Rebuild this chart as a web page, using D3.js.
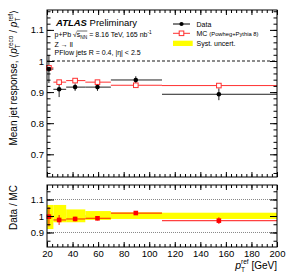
<!DOCTYPE html>
<html><head><meta charset="utf-8">
<script src="https://cdn.jsdelivr.net/npm/d3@7"></script>
<style>
html,body{margin:0;padding:0;background:#fff;}
text{font-family:"Liberation Sans",Arial,Helvetica,sans-serif;fill:#000;white-space:pre;}
</style></head>
<body>
<svg id="c" width="291" height="279"></svg>
<script>
// ---------- data ----------
const binLo = [20, 25, 35, 50, 70, 110];
const binHi = [25, 35, 50, 70, 110, 200];
const ptCenter = [21.5, 29.5, 42, 59.5, 89.5, 154.5];
const dataResp = [0.974, 0.909, 0.916, 0.916, 0.939, 0.893];
const dataErr  = [0.045, 0.025, 0.012, 0.012, 0.012, 0.019];
const mcResp   = [0.978, 0.932, 0.937, 0.932, 0.922, 0.921];
const ratioVal = [0.996, 0.976, 0.982, 0.986, 1.018, 0.972];
const ratioErr = [0.058, 0.030, 0.014, 0.013, 0.012, 0.020];
const systUp   = [1.067, 1.067, 1.040, 1.030, 1.022, 1.020];
const systDn   = [0.921, 0.962, 0.962, 0.976, 0.982, 0.982];
const xTicks = [20, 40, 60, 80, 100, 120, 140, 160, 180, 200];
const yTicksTop = [0.7, 0.8, 0.9, 1.0, 1.1];
const yTicksRatio = [0.9, 1.0, 1.1];

// ---------- layout ----------
const svg = d3.select("#c");
const L = 47, R = 277;
const T1 = 10, B1 = 177, T2 = 185, B2 = 247;
const x = d3.scaleLinear().domain([20, 200]).range([L, R]);
const yTop = d3.scaleLinear().domain([0.627, 1.164]).range([B1, T1]);
const yRat = d3.scaleLinear().domain([0.812, 1.188]).range([B2, T2]);
const idx = d3.range(binLo.length);

function styleAxis(g){
  g.select(".domain").remove();
  g.selectAll("line").attr("stroke","#000").attr("stroke-width",1);
  g.selectAll("text").style("font-family",'"Liberation Sans",Arial,sans-serif').style("font-size","9.5px").attr("fill","#000");
}
function ticksFor(yS, top, bot, majors, minorStep, majLen, minLen, showX){
  const xMinor = d3.range(20, 200.01, 4);
  svg.append("g").attr("transform",`translate(0,${bot})`)
    .call(d3.axisBottom(x).tickValues(xMinor).tickFormat("").tickSize(-minLen).tickSizeOuter(0)).call(styleAxis);
  const gb = svg.append("g").attr("transform",`translate(0,${bot})`)
    .call(d3.axisBottom(x).tickValues(xTicks).tickFormat(showX ? d3.format("d") : "").tickSize(-majLen).tickSizeOuter(0));
  styleAxis(gb);
  gb.selectAll("text").attr("y", 3);
  svg.append("g").attr("transform",`translate(0,${top})`)
    .call(d3.axisTop(x).tickValues(xMinor).tickFormat("").tickSize(-minLen).tickSizeOuter(0)).call(styleAxis);
  svg.append("g").attr("transform",`translate(0,${top})`)
    .call(d3.axisTop(x).tickValues(xTicks).tickFormat("").tickSize(-majLen).tickSizeOuter(0)).call(styleAxis);
  const d = yS.domain();
  const yMinor = d3.range(Math.ceil(d[0]/minorStep-1e-6)*minorStep, d[1]+1e-9, minorStep);
  svg.append("g").attr("transform",`translate(${L},0)`)
    .call(d3.axisLeft(yS).tickValues(yMinor).tickFormat("").tickSize(-3.5).tickSizeOuter(0)).call(styleAxis);
  const gl = svg.append("g").attr("transform",`translate(${L},0)`)
    .call(d3.axisLeft(yS).tickValues(majors).tickFormat(d3.format("~g")).tickSize(-7).tickPadding(3).tickSizeOuter(0));
  styleAxis(gl);
  svg.append("g").attr("transform",`translate(${R},0)`)
    .call(d3.axisRight(yS).tickValues(yMinor).tickFormat("").tickSize(-3.5).tickSizeOuter(0)).call(styleAxis);
  svg.append("g").attr("transform",`translate(${R},0)`)
    .call(d3.axisRight(yS).tickValues(majors).tickFormat("").tickSize(-7).tickSizeOuter(0)).call(styleAxis);
  svg.append("rect").attr("x",L).attr("y",top).attr("width",R-L).attr("height",bot-top)
    .attr("fill","none").attr("stroke","#000").attr("stroke-width",1);
}

// ---------- rich text helper ----------
function rich(parent, runs){
  const g = parent.append("g");
  let cx = 0;
  const info = [];
  runs.forEach(r=>{
    if (r.sub !== undefined || r.sup !== undefined){
      let w = 0;
      if (r.sub){ const t=g.append("text").attr("x",cx).attr("y",r.subDy).style("font-size",r.size+"px").text(r.sub); w=Math.max(w,t.node().getComputedTextLength()); }
      if (r.sup){ const t=g.append("text").attr("x",cx).attr("y",r.supDy).style("font-size",r.size+"px").text(r.sup); w=Math.max(w,t.node().getComputedTextLength()); }
      info.push({x:cx,w}); cx += w;
    } else {
      const t = g.append("text").attr("x",cx).attr("y",r.dy||0).style("font-size",r.size+"px").text(r.t);
      if (r.italic) t.style("font-style","italic");
      if (r.bold) t.style("font-weight","bold");
      const w = t.node().getComputedTextLength();
      info.push({x:cx,w}); cx += w;
    }
  });
  return {g, width:cx, info};
}

// ---------- top panel ----------
svg.append("line").attr("x1",L).attr("x2",R).attr("y1",yTop(1)).attr("y2",yTop(1))
  .attr("stroke","#666").attr("stroke-width",1.3).attr("stroke-dasharray","3,2");

const gTop = svg.append("g");
gTop.selectAll(".mch").data(idx).join("line")
  .attr("x1",i=>x(binLo[i])).attr("x2",i=>x(binHi[i]))
  .attr("y1",i=>yTop(mcResp[i])).attr("y2",i=>yTop(mcResp[i]))
  .attr("stroke","#ff3030").attr("stroke-width",1);
gTop.selectAll(".dh").data(idx).join("line")
  .attr("x1",i=>x(binLo[i])).attr("x2",i=>x(binHi[i]))
  .attr("y1",i=>yTop(dataResp[i])).attr("y2",i=>yTop(dataResp[i]))
  .attr("stroke","#222").attr("stroke-width",1);
gTop.selectAll(".dv").data(idx).join("line")
  .attr("x1",i=>x(ptCenter[i])).attr("x2",i=>x(ptCenter[i]))
  .attr("y1",i=>yTop(dataResp[i]+dataErr[i])).attr("y2",i=>yTop(dataResp[i]-dataErr[i]))
  .attr("stroke","#222").attr("stroke-width",1);
gTop.selectAll(".mcs").data(idx).join("rect")
  .attr("x",i=>x(ptCenter[i])-2.3).attr("y",i=>yTop(mcResp[i])-2.3)
  .attr("width",4.6).attr("height",4.6)
  .attr("fill","#fff").attr("stroke","#ff3030").attr("stroke-width",1);
gTop.selectAll(".dc").data(idx).join("circle")
  .attr("cx",i=>x(ptCenter[i])).attr("cy",i=>yTop(dataResp[i])).attr("r",2.3)
  .attr("fill","#000");

ticksFor(yTop, T1, B1, yTicksTop, 0.02, 5, 3, false);

// ---------- ratio panel ----------
[1.1, 1.0, 0.9].forEach(v=>{
  svg.append("line").attr("x1",L).attr("x2",R).attr("y1",yRat(v)).attr("y2",yRat(v))
    .attr("stroke","#888").attr("stroke-width",1).attr("stroke-dasharray","1,1");
});
const gR = svg.append("g");
gR.selectAll(".sy").data(idx).join("rect")
  .attr("x",i=>x(binLo[i])).attr("width",i=>x(binHi[i])-x(binLo[i]))
  .attr("y",i=>yRat(systUp[i])).attr("height",i=>yRat(systDn[i])-yRat(systUp[i]))
  .attr("fill","#ffff00");
gR.selectAll(".rh").data(idx).join("line")
  .attr("x1",i=>x(binLo[i])).attr("x2",i=>x(binHi[i]))
  .attr("y1",i=>yRat(ratioVal[i])).attr("y2",i=>yRat(ratioVal[i]))
  .attr("stroke","#ff0000").attr("stroke-opacity",0.75).attr("stroke-width",1.2);
gR.selectAll(".rv").data(idx).join("line")
  .attr("x1",i=>x(ptCenter[i])).attr("x2",i=>x(ptCenter[i]))
  .attr("y1",i=>yRat(ratioVal[i]+ratioErr[i])).attr("y2",i=>yRat(ratioVal[i]-ratioErr[i]))
  .attr("stroke","#ff0000").attr("stroke-opacity",0.75).attr("stroke-width",1.2);
gR.selectAll(".rs").data(idx).join("rect")
  .attr("x",i=>x(ptCenter[i])-2.3).attr("y",i=>yRat(ratioVal[i])-2.3)
  .attr("width",4.6).attr("height",4.6).attr("fill","#ff0000");

ticksFor(yRat, T2, B2, yTicksRatio, 0.05, 5, 3, true);

// ---------- labels ----------
const atl = rich(svg, [{t:"ATLAS",size:9.5,bold:true,italic:true},{t:" Preliminary",size:9.5}]);
atl.g.attr("transform","translate(56,25.5)");

const l2 = rich(svg, [
  {t:"p+Pb ",size:7},{t:"\u221A",size:7},{t:"s",size:7},{t:"NN",size:4.8,dy:1.8},
  {t:" = 8.16 TeV, 165 nb",size:7},{t:"-1",size:4.8,dy:-3}]);
l2.g.attr("transform","translate(54.5,37)");
l2.g.append("line").attr("x1",l2.info[2].x).attr("x2",l2.info[3].x+l2.info[3].w)
  .attr("y1",-6).attr("y2",-6).attr("stroke","#000").attr("stroke-width",0.6);

svg.append("text").attr("x",54.5).attr("y",46.5).style("font-size","7px").text("Z \u2192 ll");
svg.append("text").attr("x",54.5).attr("y",54.5).style("font-size","7px").text("PFlow jets R = 0.4, |\u03B7| < 2.5");

// legend
const lgX0 = 173, lgX1 = 190, lgT = 196.5;
const rows = [24, 33.3, 43.3];
svg.append("line").attr("x1",lgX0).attr("x2",lgX1).attr("y1",rows[0]).attr("y2",rows[0]).attr("stroke","#000");
svg.append("circle").attr("cx",(lgX0+lgX1)/2).attr("cy",rows[0]).attr("r",2.1).attr("fill","#000");
svg.append("text").attr("x",lgT).attr("y",rows[0]+2.5).style("font-size","7px").text("Data");
svg.append("line").attr("x1",lgX0).attr("x2",lgX1).attr("y1",rows[1]).attr("y2",rows[1]).attr("stroke","#ff3030");
svg.append("rect").attr("x",(lgX0+lgX1)/2-2.3).attr("y",rows[1]-2.3).attr("width",4.6).attr("height",4.6)
  .attr("fill","#fff").attr("stroke","#ff3030");
const mcT = rich(svg, [{t:"MC ",size:7},{t:"(Powheg+Pythia 8)",size:5.8}]);
mcT.g.attr("transform",`translate(${lgT},${rows[1]+2.5})`);
svg.append("rect").attr("x",lgX0).attr("y",40.7).attr("width",19.7).attr("height",5.3).attr("fill","#ffff00");
svg.append("text").attr("x",lgT).attr("y",rows[2]+2.5).style("font-size","7px").text("Syst. uncert.");

// y title top
const yt = rich(svg, [
  {t:"Mean jet response, \u27E8",size:10},{t:"p",size:10,italic:true},
  {sub:"T",sup:"reco",size:6.5,subDy:2.5,supDy:-4.5},
  {t:" / ",size:10},{t:"p",size:10,italic:true},
  {sub:"T",sup:"ref",size:6.5,subDy:2.5,supDy:-4.5},{t:"\u27E9",size:10}]);
yt.g.attr("transform",`translate(17,${T1}) rotate(-90) translate(${-yt.width},0)`);

const yr = rich(svg, [{t:"Data / MC",size:10}]);
yr.g.attr("transform",`translate(17,${T2}) rotate(-90) translate(${-yr.width},0)`);

// x title
const xt = rich(svg, [{t:"p",size:10.5,italic:true},{sub:"T",sup:"ref",size:6.5,subDy:3,supDy:-5},{t:" [GeV]",size:10}]);
xt.g.attr("transform",`translate(${R-xt.width},268.5)`);
</script>
</body></html>
